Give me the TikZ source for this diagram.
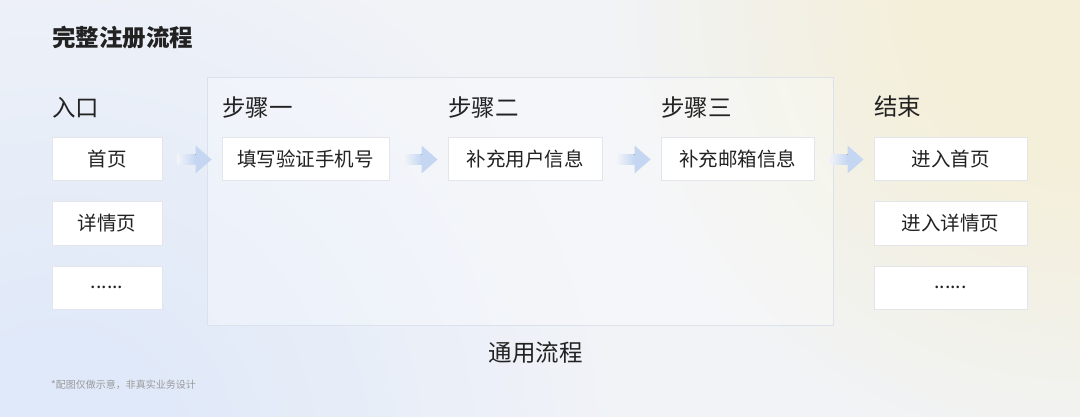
\documentclass[tikz,border=0pt]{standalone}
\usepackage{fontspec}
\setmainfont{Noto Sans CJK SC}
\usepackage{xcolor}
\usetikzlibrary{positioning, calc}
\definecolor{bgblue}{HTML}{E0E9F9}
\definecolor{bgmid}{HTML}{F1F3F7}
\definecolor{bgcream}{HTML}{F4EFD8}
\definecolor{boxline}{HTML}{E3E5EA}
\definecolor{frameline}{HTML}{DCE2EC}
\definecolor{ink}{HTML}{222222}
\definecolor{notegray}{HTML}{9A9A9A}
\definecolor{arrowblue}{HTML}{C4D6F2}
\pgfdeclareradialshading{blueblob}{\pgfpoint{0bp}{0bp}}{color(0bp)=(bgblue); color(110bp)=(bgblue); color(560bp)=(bgmid)}
\pgfdeclareradialshading{creamblob}{\pgfpoint{0bp}{0bp}}{color(0bp)=(bgcream); color(150bp)=(bgcream); color(480bp)=(bgmid)}
\tikzset{
	block/.style={draw=boxline, fill=white, line width=1pt},
	selection/.style={draw=frameline, fill=white, fill opacity=0.3, line width=1pt},
	heading/.style={text=ink, anchor=west, inner sep=0pt, font=\fontsize{23.5}{24}\selectfont},
	boxtext/.style={text=ink, inner sep=0pt, font=\fontsize{19.5}{20}\selectfont}
}
\newcommand{\flowarrow}[2]{%
	\coordinate (tail) at ($(#1.east)+(15,0)$);
	\coordinate (tip) at ($(#2.west)+(-10,0)$);
	\fill[left color=bgmid, right color=arrowblue] ($(tail)+(0,-5)$) rectangle ($(tip)+(-16,5)$);
	\fill[arrowblue] ($(tip)+(-16,-14)$) -- (tip) -- ($(tip)+(-16,14)$) -- cycle;
}

\begin{document}
\begin{tikzpicture}[x=1pt, y=-1pt]
		\useasboundingbox (0,0) rectangle (1080,417);
		\begin{scope}
			\clip (0,0) rectangle (1080,417);
			\fill[bgmid] (0,0) rectangle (1080,417);
			\node[inner sep=0pt] (bluebg) at (60,450) {\pgfuseshading{blueblob}};
			\node[inner sep=0pt] (creambg) at (1080,0) {\pgfuseshading{creamblob}};
		\end{scope}
		
		\node[heading, font=\fontsize{23.5}{24}\selectfont\bfseries] (title) at (52,38) {完整注册流程};
		
		% common part
		\node[selection, minimum width=626pt, minimum height=247pt] (frame) at (520,201.5) {};
		\node[text=ink, font=\fontsize{23.5}{24}\selectfont] (common) at (535.5,353) {通用流程};
		
		% entry
		\node[heading] (entry) at (52,107.5) {入口};
		\node[block, minimum width=110pt, minimum height=43pt] (home) at (107,159.5) {};
		\node[boxtext] at (home) {首页};
		\node[block, minimum width=110pt, minimum height=43pt] (detail) at (107,223.5) {};
		\node[boxtext] at (detail) {详情页};
		\node[block, minimum width=110pt, minimum height=43pt] (more) at (107,287.5) {};
		\node[boxtext] at (more) {......};
		
		% steps
		\node[heading] (stepone) at (222,107.5) {步骤一};
		\node[block, minimum width=167pt, minimum height=43pt] (phone) at (305.5,159.5) {};
		\node[boxtext] at (phone) {填写验证手机号};
		
		\node[heading] (steptwo) at (448,107.5) {步骤二};
		\node[block, minimum width=154pt, minimum height=43pt] (user) at (525,159.5) {};
		\node[boxtext] at (user) {补充用户信息};
		
		\node[heading] (stepthree) at (661,107.5) {步骤三};
		\node[block, minimum width=153pt, minimum height=43pt] (mail) at (737.5,159.5) {};
		\node[boxtext] at (mail) {补充邮箱信息};
		
		% finish
		\node[heading] (finish) at (874,106.5) {结束};
		\node[block, minimum width=153pt, minimum height=43pt] (gohome) at (950.5,159.5) {};
		\node[boxtext] at (gohome) {进入首页};
		\node[block, minimum width=153pt, minimum height=43pt] (godetail) at (950.5,223.5) {};
		\node[boxtext] at (godetail) {进入详情页};
		\node[block, minimum width=153pt, minimum height=43pt] (gomore) at (950.5,287.5) {};
		\node[boxtext] at (gomore) {......};
		
		\flowarrow{home}{phone}
		\flowarrow{phone}{user}
		\flowarrow{user}{mail}
		\flowarrow{mail}{gohome}
		
		\node[text=notegray, anchor=west, inner sep=0pt, font=\fontsize{10}{10}\selectfont] (note) at (51,385) {*配图仅做示意，非真实业务设计};
	\end{tikzpicture}
\end{document}
